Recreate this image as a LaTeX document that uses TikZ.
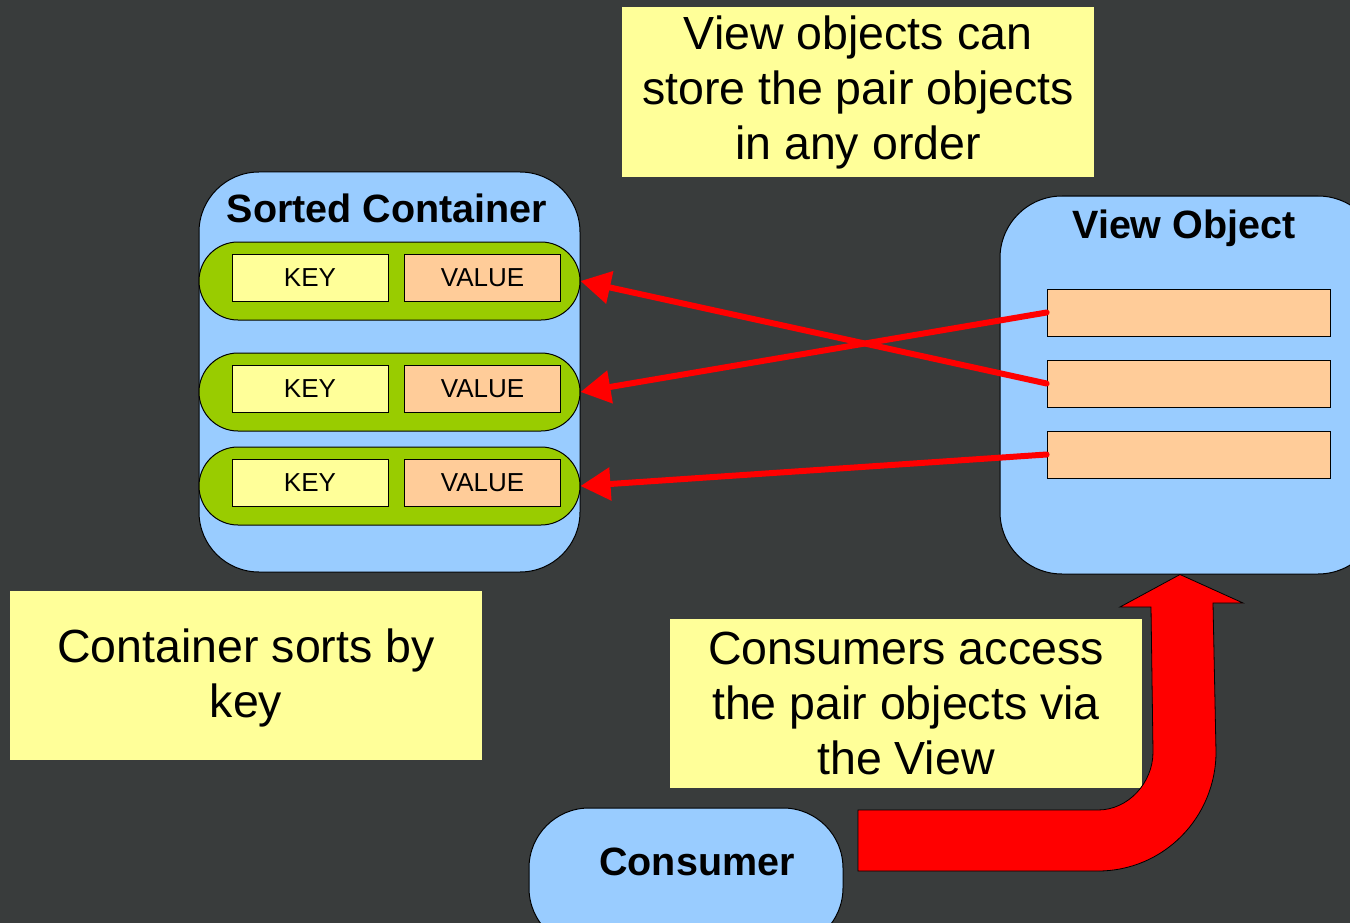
\documentclass[tikz,border=0pt]{standalone}
\usepackage{fontspec}
\setmainfont{Liberation Sans}
\usetikzlibrary{arrows.meta}
\definecolor{bgc}{RGB}{57,60,60}
\definecolor{cblue}{RGB}{153,204,255}
\definecolor{cgreen}{RGB}{153,204,0}
\definecolor{cyel}{RGB}{255,255,153}
\definecolor{corange}{RGB}{255,204,153}
\definecolor{cred}{RGB}{255,0,0}
\tikzset{
  note/.style={fill=cyel, draw=none, inner sep=0pt, align=center,
    font=\fontsize{46.5}{55}\selectfont},
  holder/.style={fill=cblue, draw=black, line width=1pt, inner sep=0pt},
  title/.style={font=\fontsize{39.5}{44}\selectfont\bfseries, inner sep=0pt},
  pairrow/.style={fill=cgreen, draw=black, line width=1pt, rounded corners=39pt,
    minimum width=381pt, minimum height=78pt, inner sep=0pt},
  keybox/.style={fill=cyel, draw=black, line width=1pt, minimum width=156pt,
    minimum height=47pt, inner sep=0pt, font=\fontsize{26}{30}\selectfont},
  valbox/.style={keybox, fill=corange},
  slot/.style={fill=corange, draw=black, line width=0.8pt, minimum width=283pt,
    minimum height=47pt, inner sep=0pt},
  link/.style={draw=cred, line width=6pt, line cap=round,
    -{Triangle[length=30pt,width=32pt]}},
  bigarrow/.style={fill=cred, draw=black, line width=0.8pt, line join=miter}
}
\begin{document}
\begin{tikzpicture}[x=1pt,y=-1pt]
\useasboundingbox (0,0) rectangle (1350,923);
\clip (0,0) rectangle (1350,923);
\fill[bgc] (0,0) rectangle (1350,923);

% top note
\node[note, minimum width=472pt, minimum height=170pt] (n1) at (858,92)
  {View objects can\\store the pair objects\\in any order};

% sorted container
\node[holder, rounded corners=60pt, minimum width=381pt, minimum height=400pt] (sc) at (389.5,372) {};
\node[title] (sct) at (387,208) {Sorted Container};

\foreach \i/\y in {1/281,2/392,3/486}{
  \node[pairrow] (r\i) at (389.5,\y) {};
  \node[keybox] (k\i) at (310,\y-3) {KEY};
  \node[valbox] (v\i) at (482.5,\y-3) {VALUE};
}

% view object
\node[holder, rounded corners=62pt, minimum width=380pt, minimum height=378pt] (vo) at (1190,385) {};
\node[title] (vot) at (1184,228) {View Object};
\node[slot] (s1) at (1188.5,312.5) {};
\node[slot] (s2) at (1188.5,383.5) {};
\node[slot] (s3) at (1188.5,454.5) {};

% links
\draw[link] (s1.west) -- (r2.east);
\draw[link] (s2.west) -- (r1.east);
\draw[link] (s3.west) -- (r3.east);

% bottom notes
\node[note, minimum width=472pt, minimum height=169pt] (n2) at (246,675.5) {};
\node[note, fill=none] (n2t) at (246,678) {Container sorts by\\key};
\node[note, minimum width=472pt, minimum height=169pt] (n3) at (906,703.5)
  {Consumers access\\the pair objects via\\the View};

% consumer
\node[holder, rounded corners=60pt, minimum width=314pt, minimum height=140pt] (con) at (686,878) {};
\node[title] (cont) at (697,862) {Consumer};

% big arrow from consumer to view object
\coordinate (tip) at (vo.south -| 1180,0);
\draw[bigarrow] (858,810) -- (1098,810)
  .. controls (1128,810) and (1153,783) .. (1153,752)
  -- (1151,607) -- (1120,607) -- (tip) -- (1243,603) -- (1213,603)
  -- (1216,752)
  .. controls (1216,817) and (1164,871) .. (1098,871)
  -- (858,871) -- cycle;
\end{tikzpicture}
\end{document}
